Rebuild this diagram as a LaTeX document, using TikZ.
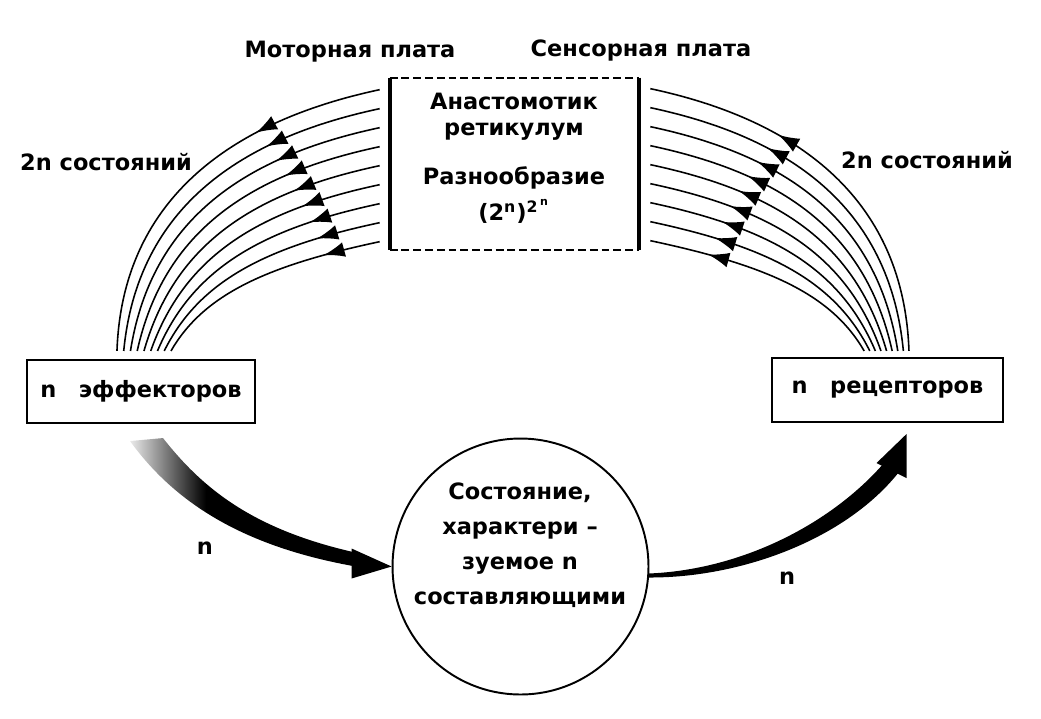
\documentclass[tikz,border=0pt]{standalone}
\usepackage{fontspec}
\setmainfont{DejaVu Sans}
\usetikzlibrary{arrows.meta,positioning,calc,decorations.markings}

\pgfdeclarehorizontalshading{effshade}{100bp}{color(0bp)=(black!8); color(25bp)=(black!8); color(42bp)=(black); color(100bp)=(black)}

\tikzset{
  platetip/.tip={Latex[length=4.2mm,width=3mm]},
  fibre/.style={line width=0.9pt,postaction={decorate}},
  unitbox/.style={draw,line width=1.2pt,minimum width=4.56cm,minimum height=1.26cm},
  lbl/.style={inner sep=1pt},
}

\begin{document}
\begin{tikzpicture}[x=0.02cm,y=-0.02cm,font=\bfseries\fontsize{12.8}{15}\selectfont]
\useasboundingbox (0,0) rectangle (1041,718);

% boxes
\node[unitbox] (eff) at (141,391.5) {n\quad эффекторов};
\node[unitbox,minimum width=4.62cm,minimum height=1.28cm] (rec) at (887.5,390) {n\quad рецепторов};
\node[minimum width=4.98cm,minimum height=3.44cm] (ret) at (514.5,164) {};
\draw[line width=2.2pt] (ret.north west) -- (ret.south west) (ret.north east) -- (ret.south east);
\draw[line width=1.2pt,dash pattern=on 4.5pt off 2.2pt] (ret.north west) -- (ret.north east) (ret.south west) -- (ret.south east);
\node[align=center] (rettext) at (514,158) {Анастомотик\\ретикулум\\[13pt]Разнообразие\\[5pt](2\textsuperscript{n})\textsuperscript{2\,\textsuperscript{n}}};
\node[draw,circle,line width=1.1pt,minimum size=5.12cm] (st) at (520.5,566.5) {};
\node[align=center,font=\bfseries\fontsize{12.8}{20}\selectfont] (sttext) at (520,545) {Состояние,\\характери –\\зуемое n\\составляющими};

% labels
\node[lbl] (motor) at (350,52) {Моторная плата};
\node[lbl] (sensor) at (641,50) {Сенсорная плата};
\node[lbl] (stl) at (106,162) {2n состояний};
\node[lbl] (str) at (927,160) {2n состояний};
\node[lbl] (nl) at (205,548) {n};
\node[lbl] (nr) at (787,578) {n};

% motor plate -> effectors
\foreach \i in {0,...,8}{
  \pgfmathsetmacro{\dx}{262-6.75*\i}
  \pgfmathsetmacro{\dy}{262-19*\i}
  \pgfmathsetmacro{\th}{88-3.5*\i}
  \pgfmathsetmacro{\pos}{0.325-0.011*\i}
  \coordinate (mt\i) at ($(ret.north west)+(-10,12+19*\i)$);
  \coordinate (mb\i) at ($(eff.north west)+(91+6.75*\i,-8)$);
  \draw[fibre,decoration={markings,mark=at position \pos with {\arrow{platetip}}}]
    (mt\i) .. controls ($(mt\i)+({-0.55*\dx*cos(12)},{0.55*\dx*sin(12)})$)
    and ($(mb\i)+({0.6*\dy*cos(\th)},{-0.6*\dy*sin(\th)})$) .. (mb\i);
}

% receptors -> sensory plate
\foreach \i in {0,...,8}{
  \pgfmathsetmacro{\dx}{260-5.6*\i}
  \pgfmathsetmacro{\dy}{263-19*\i}
  \pgfmathsetmacro{\th}{88-3.5*\i}
  \pgfmathsetmacro{\pos}{0.66+0.0125*\i}
  \coordinate (sp\i) at ($(ret.north east)+(11,11+19*\i)$);
  \coordinate (rb\i) at ($(rec.north west)+(138-5.6*\i,-6)$);
  \draw[fibre,decoration={markings,mark=at position \pos with {\arrow{platetip}}}]
    (rb\i) .. controls ($(rb\i)+({-0.6*\dy*cos(\th)},{-0.6*\dy*sin(\th)})$)
    and ($(sp\i)+({0.55*\dx*cos(12)},{0.55*\dx*sin(12)})$) .. (sp\i);
}

% effectors -> state
\coordinate (e1) at ($(eff.south)+(-11,17)$);
\coordinate (e2) at ($(eff.south)+(22,14)$);
\shade[shading=effshade] (e1) .. controls (175,503) and (243,546) .. (353,566)
  -- (353,552) .. controls (253,529) and (203,489) .. (e2) -- cycle;
\fill (st.west) -- ++(-40,-18) -- ++(0,30) -- cycle;

% state -> receptors
\coordinate (s1) at ($(st.east)+(-1,11)$);
\coordinate (s2) at ($(st.east)+(-1,7)$);
\fill (s1) .. controls (740,578) and (845,540) .. (899,472)
  -- (884,463) .. controls (830,525) and (740,570) .. (s2) -- cycle;
\fill ($(rec.south)+(19,11)$) -- ++(-30,29) -- ++(30,15) -- cycle;
\end{tikzpicture}
\end{document}
